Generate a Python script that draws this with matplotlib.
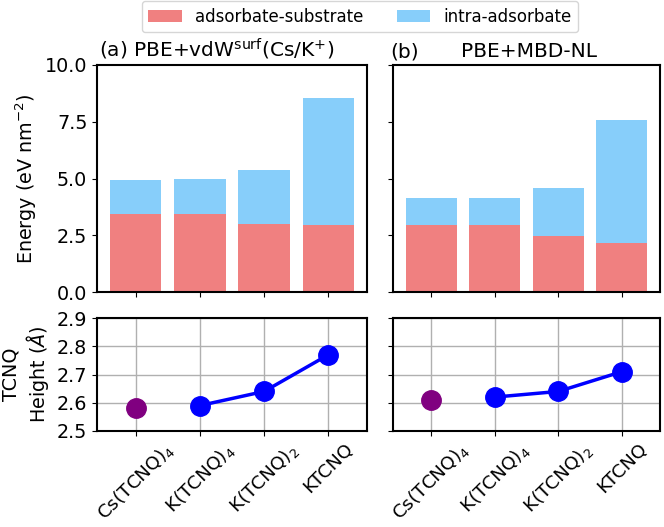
import matplotlib
matplotlib.use("Agg")
import matplotlib.pyplot as plt
import numpy as np

categories = ["Cs(TCNQ)$_4$", "K(TCNQ)$_4$", "K(TCNQ)$_2$", "KTCNQ"]
# panel (a) PBE+vdWsurf
ads_sub_a = [3.42, 3.42, 3.01, 2.95]
intra_a = [1.51, 1.56, 2.35, 5.58]
height_a = [2.58, 2.59, 2.64, 2.77]
# panel (b) PBE+MBD-NL
ads_sub_b = [2.97, 2.94, 2.45, 2.16]
intra_b = [1.16, 1.19, 2.13, 5.41]
height_b = [2.61, 2.62, 2.64, 2.71]

FS = 13.8
FS_T = 14.5
FS_L = 12
FS_X = 13.3
plt.rcParams['font.size'] = FS
W, H = 664, 527
fig = plt.figure(figsize=(W/100, H/100), dpi=100)

def rect(x0, y0, x1, y1):
    return [x0/W, 1 - y1/H, (x1-x0)/W, (y1-y0)/H]

ax_a = fig.add_axes(rect(97, 65, 367, 292))
ax_b = fig.add_axes(rect(393, 65, 660, 292))
bx_a = fig.add_axes(rect(97, 318, 367, 431))
bx_b = fig.add_axes(rect(393, 318, 660, 431))

x = np.arange(len(categories))
red = '#F08080'
blue = '#87CEFA'

for ax, s, i in [(ax_a, ads_sub_a, intra_a), (ax_b, ads_sub_b, intra_b)]:
    ax.bar(x, s, width=0.8, color=red, label='adsorbate-substrate')
    ax.bar(x, i, width=0.8, bottom=s, color=blue, label='intra-adsorbate')
    ax.set_xlim(-0.6, 3.6)
    ax.set_ylim(0, 10)
    ax.set_yticks([0, 2.5, 5.0, 7.5, 10.0])
    ax.set_xticks(x)
    ax.set_xticklabels([])
    for sp in ax.spines.values():
        sp.set_linewidth(1.5)
ax_a.set_ylabel('Energy (eV nm$^{-2}$)')
ax_b.set_yticklabels([])

ty = 1 - 57/H
fig.text(99/W, ty, '(a) PBE+vdW$^{\\mathrm{surf}}$(Cs/K$^{+}$)', fontsize=FS_T, va='baseline', ha='left')
fig.text(390/W, ty, '(b)', fontsize=FS_T, va='baseline', ha='left')
fig.text(461/W, ty, 'PBE+MBD-NL', fontsize=FS_T, va='baseline', ha='left')

for bx, h in [(bx_a, height_a), (bx_b, height_b)]:
    bx.grid(True, color='#b0b0b0', linewidth=1.0)
    bx.set_axisbelow(True)
    bx.plot(x[0], h[0], 'o', color='purple', markersize=14, zorder=3)
    bx.plot(x[1:], h[1:], 'o-', color='blue', markersize=14, linewidth=2.5, zorder=3)
    bx.set_xlim(-0.6, 3.6)
    bx.set_ylim(2.5, 2.9)
    bx.set_yticks([2.5, 2.6, 2.7, 2.8, 2.9])
    bx.set_xticks(x)
    bx.set_xticklabels(categories, rotation=45, ha='center', fontsize=FS_X)
    bx.tick_params(axis='x', pad=2.5)
    for sp in bx.spines.values():
        sp.set_linewidth(1.5)
bx_a.set_ylabel('TCNQ\nHeight ($Å$)')
bx_b.set_yticklabels([])

handles, labels = ax_a.get_legend_handles_labels()
fig.legend(handles, labels, loc='upper center', ncol=2, bbox_to_anchor=(360/W, 1 - 1/H),
           fontsize=FS_L, frameon=True, columnspacing=2.0, borderaxespad=0.0)

fig.savefig('out.png', dpi=100)
